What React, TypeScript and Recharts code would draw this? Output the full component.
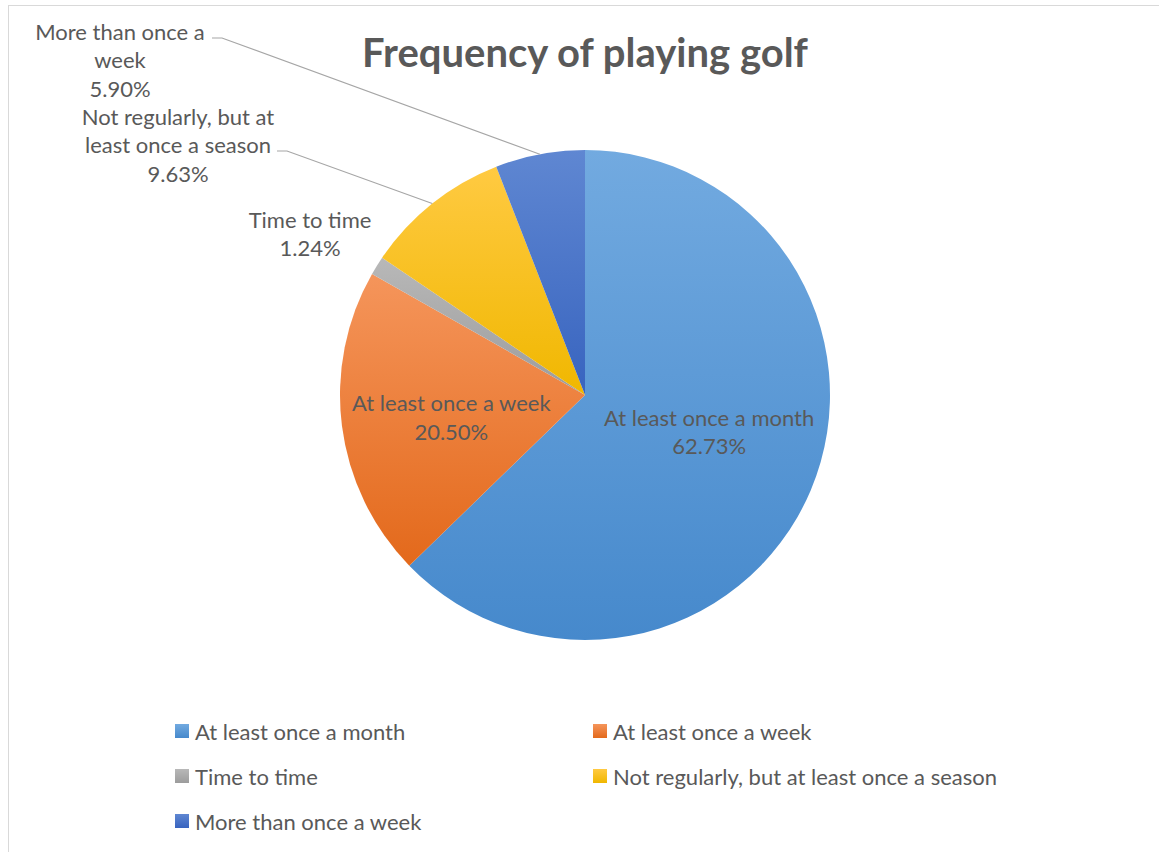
import { Cell, Legend, Pie, PieChart } from 'recharts';

const categories = [
  'At least once a month',
  'At least once a week',
  'Time to time',
  'Not regularly, but at least once a season',
  'More than once a week'
];
const shares = [62.73, 20.5, 1.24, 9.63, 5.9];

// gradient stops per slice, lighter on top like the Office style
const gradientTop = ['#72aae0', '#f5955b', '#b8b8b8', '#ffca42', '#5f87d2'];
const gradientBottom = ['#4689cc', '#e3691b', '#9c9c9c', '#f0b700', '#3864bf'];
const legendColumns = 2;

const textColor = '#595959';
const fontFamily = 'Lato, "Open Sans", sans-serif';
const labelSize = 22;

// hand-placed outside labels, like the moved labels in the original chart
const outsideLabels: Record<string, { x: number; y: number; lines: string[]; lead?: [number, number, number] }> = {
  'More than once a week': { x: 120, y: 31, lines: ['More than once a', 'week'], lead: [212, 38, 222] },
  'Not regularly, but at least once a season': {
    x: 178,
    y: 116,
    lines: ['Not regularly, but at', 'least once a season'],
    lead: [277, 151, 287]
  },
  'Time to time': { x: 310, y: 219, lines: ['Time to time'] }
};
// small vertical nudges for the labels drawn inside slices
const insideNudge: Record<string, number> = {
  'At least once a month': -16,
  'At least once a week': 5
};

const data = categories.map((name, i) => ({ name, value: shares[i] }));

const RAD = Math.PI / 180;
const LINE_H = 28.5;

function renderLabel(props: any) {
  const { cx, cy, midAngle, outerRadius, name, index } = props;
  const pct = `${shares[index].toFixed(2)}%`;
  const place = outsideLabels[name];

  if (!place) {
    const r = outerRadius * 0.55;
    const x = cx + r * Math.cos(-midAngle * RAD);
    const y = cy + r * Math.sin(-midAngle * RAD) + (insideNudge[name] ?? 0);
    return (
      <text x={x} y={y} textAnchor="middle" fill={textColor} fontSize={labelSize} fontFamily={fontFamily}>
        <tspan x={x} y={y - LINE_H / 2} dominantBaseline="central">
          {name}
        </tspan>
        <tspan x={x} y={y + LINE_H / 2} dominantBaseline="central">
          {pct}
        </tspan>
      </text>
    );
  }

  const lines = [...place.lines, pct];
  const ex = cx + outerRadius * Math.cos(-midAngle * RAD);
  const ey = cy + outerRadius * Math.sin(-midAngle * RAD);

  return (
    <g>
      {place.lead && (
        <polyline
          points={`${place.lead[0]},${place.lead[1]} ${place.lead[2]},${place.lead[1]} ${ex},${ey}`}
          fill="none"
          stroke="#a6a6a6"
          strokeWidth={1.2}
        />
      )}
      <text textAnchor="middle" fill={textColor} fontSize={labelSize} fontFamily={fontFamily}>
        {lines.map((l, i) => (
          <tspan key={i} x={place.x} y={place.y + i * LINE_H} dominantBaseline="central">
            {l}
          </tspan>
        ))}
      </text>
    </g>
  );
}

function renderLegend(props: any) {
  const payload = [...(props.payload ?? [])].sort(
    (a: any, b: any) => categories.indexOf(a.value) - categories.indexOf(b.value)
  );
  return (
    <div
      style={{
        display: 'grid',
        gridTemplateColumns: `repeat(${legendColumns}, 418px)`,
        rowGap: 17,
        fontFamily,
        fontSize: labelSize,
        color: textColor
      }}
    >
      {payload.map((entry: any, i: number) => (
        <div key={i} style={{ display: 'flex', alignItems: 'center', height: 28 }}>
          <svg width={14} height={14} style={{ marginRight: 6 }}>
            <rect width={14} height={14} fill={`url(#grad${categories.indexOf(entry.value)})`} />
          </svg>
          <span>{entry.value}</span>
        </div>
      ))}
    </div>
  );
}

export default function App() {
  return (
    <div style={{ position: 'relative', width: 1159, height: 852, overflow: 'hidden', background: '#fff' }}>
      <style>{`body{margin:0;overflow:hidden}`}</style>
      <div
        style={{
          position: 'absolute',
          left: 8,
          top: 5,
          width: 1180,
          height: 880,
          border: '1.5px solid #d9d9d9'
        }}
      />
      <svg width={1159} height={100} style={{ position: 'absolute', left: 0, top: 0 }}>
        <text
          x={585}
          y={67}
          textAnchor="middle"
          fill={textColor}
          fontSize={40}
          fontWeight={700}
          fontFamily={fontFamily}
        >
          Frequency of playing golf
        </text>
      </svg>
      <div style={{ position: 'absolute', left: 0, top: 0 }}>
        <PieChart width={1159} height={852} margin={{ top: 0, right: 0, bottom: 0, left: 0 }}>
          <defs>
            {categories.map((_, i) => (
              <linearGradient key={i} id={`grad${i}`} x1="0" y1="0" x2="0" y2="1">
                <stop offset="0%" stopColor={gradientTop[i]} />
                <stop offset="100%" stopColor={gradientBottom[i]} />
              </linearGradient>
            ))}
          </defs>
          <Pie
            data={data}
            dataKey="value"
            nameKey="name"
            cx={585}
            cy={395}
            outerRadius={245}
            startAngle={90}
            endAngle={-270}
            stroke="none"
            label={renderLabel}
            labelLine={false}
            isAnimationActive={false}
          >
            {data.map((_, i) => (
              <Cell key={i} fill={`url(#grad${i})`} />
            ))}
          </Pie>
          <Legend
            content={renderLegend}
            itemSorter={null as any}
            wrapperStyle={{ position: 'absolute', left: 175, top: 717, width: 900 }}
          />
        </PieChart>
      </div>
    </div>
  );
}
